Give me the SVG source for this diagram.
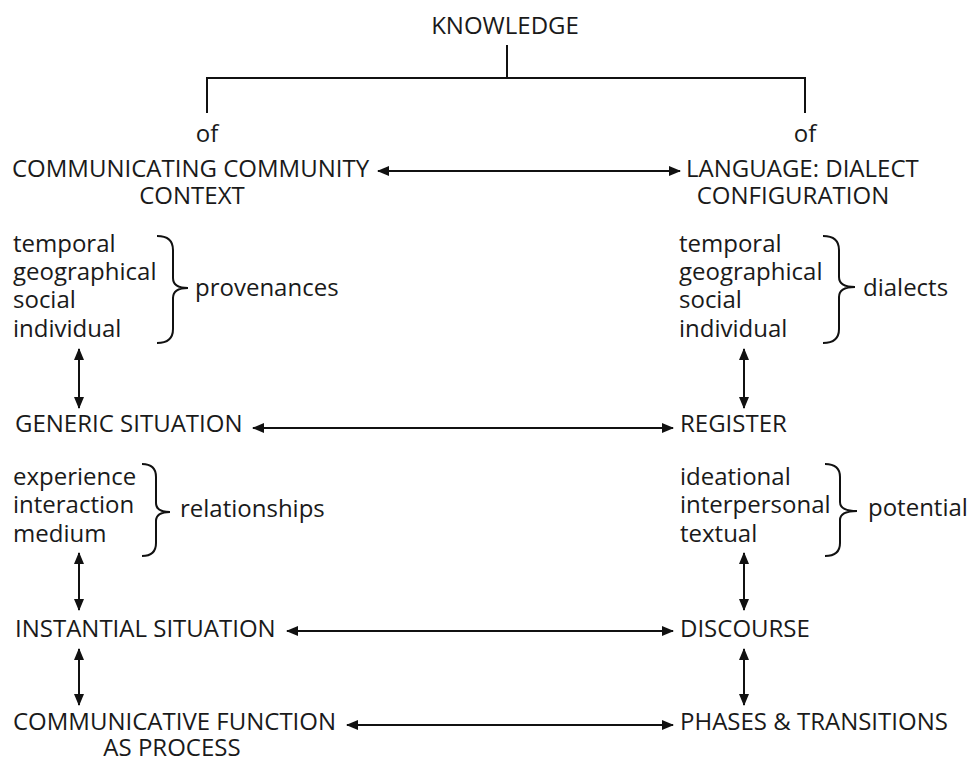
<svg xmlns="http://www.w3.org/2000/svg" width="972" height="760" viewBox="0 0 972 760">
<defs>
<marker id="ah" viewBox="0 0 12 10" refX="11" refY="5" markerWidth="12" markerHeight="10" markerUnits="userSpaceOnUse" orient="auto-start-reverse">
<path d="M0,0 L12,5 L0,10 Z" fill="#111"/>
</marker>
</defs>
<style>
text{font-family:"Open Sans","Noto Sans","DejaVu Sans",sans-serif;font-size:24px;fill:#1a1a1a}
.c{text-anchor:middle}
.ln{stroke:#111;stroke-width:2;fill:none}
.ar{stroke:#111;stroke-width:2;fill:none;marker-start:url(#ah);marker-end:url(#ah)}
.br{stroke:#111;stroke-width:2;fill:none}
</style>
<rect width="972" height="760" fill="#fff"/>
<g id="knowledge"><text class="c" x="505" y="34">KNOWLEDGE</text></g>
<g id="tree">
<path class="ln" d="M507,45 V78 M207,78 H805 M207,77 V113 M805,77 V113"/>
</g>
<g id="community"><text class="c" x="207" y="142">of</text><text x="12" y="177">COMMUNICATING COMMUNITY</text><text class="c" x="192" y="204">CONTEXT</text></g>
<g id="language"><text class="c" x="805" y="142">of</text><text x="686" y="177">LANGUAGE: DIALECT</text><text class="c" x="793" y="204">CONFIGURATION</text></g>
<g id="provenances">
<text x="13" y="252">temporal</text><text x="13" y="280">geographical</text><text x="13" y="308">social</text><text x="13" y="337">individual</text>
<path class="br" d="M157,236 Q173,236 173,250 L173,278 Q173,288 188,288 Q173,288 173,298 L173,329 Q173,343 157,343"/>
<text x="195" y="296">provenances</text>
</g>
<g id="dialects">
<text x="679" y="252">temporal</text><text x="679" y="280">geographical</text><text x="679" y="308">social</text><text x="679" y="337">individual</text>
<path class="br" d="M823,236 Q839,236 839,250 L839,277 Q839,287 855,287 Q839,287 839,297 L839,329 Q839,343 823,343"/>
<text x="863" y="296">dialects</text>
</g>
<g id="generic"><text x="15" y="432">GENERIC SITUATION</text></g>
<g id="register"><text x="680" y="432">REGISTER</text></g>
<g id="relationships">
<text x="13" y="485">experience</text><text x="13" y="513">interaction</text><text x="13" y="542">medium</text>
<path class="br" d="M142,464 Q156,464 156,477 L156,503 Q156,512 170,512 Q156,512 156,521 L156,543 Q156,556 142,556"/>
<text x="180" y="517">relationships</text>
</g>
<g id="potential">
<text x="680" y="485">ideational</text><text x="680" y="513">interpersonal</text><text x="680" y="542">textual</text>
<path class="br" d="M825,464 Q840,464 840,477 L840,502 Q840,511 857,511 Q840,511 840,520 L840,543 Q840,556 825,556"/>
<text x="868" y="516">potential</text>
</g>
<g id="instantial"><text x="15" y="637">INSTANTIAL SITUATION</text></g>
<g id="discourse"><text x="680" y="637">DISCOURSE</text></g>
<g id="function"><text x="13" y="730">COMMUNICATIVE FUNCTION</text><text class="c" x="172" y="756">AS PROCESS</text></g>
<g id="phases"><text x="680" y="730">PHASES &amp; TRANSITIONS</text></g>
<g id="connectors">
<line class="ar" x1="378" y1="171" x2="680" y2="171"/>
<line class="ar" x1="253" y1="428" x2="673" y2="428"/>
<line class="ar" x1="287" y1="631" x2="673" y2="631"/>
<line class="ar" x1="347" y1="725" x2="673" y2="725"/>
<line class="ar" x1="79" y1="349" x2="79" y2="408"/>
<line class="ar" x1="744" y1="349" x2="744" y2="408"/>
<line class="ar" x1="79" y1="553" x2="79" y2="610"/>
<line class="ar" x1="744" y1="553" x2="744" y2="610"/>
<line class="ar" x1="79" y1="649" x2="79" y2="705"/>
<line class="ar" x1="744" y1="649" x2="744" y2="705"/>
</g>
</svg>
